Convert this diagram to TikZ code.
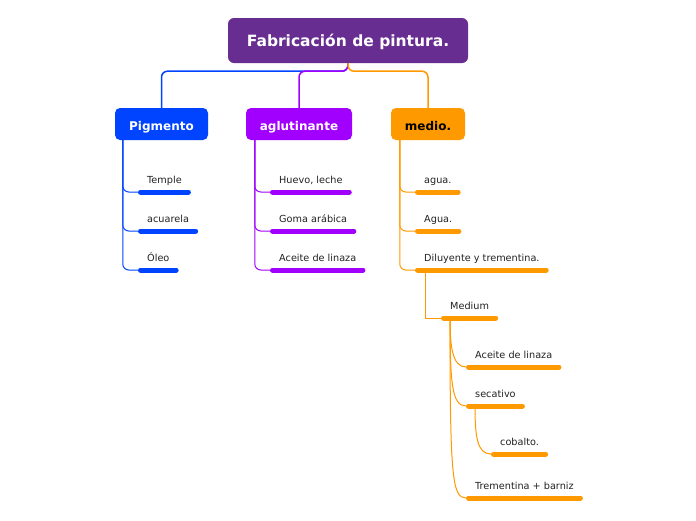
\documentclass[tikz,border=0pt]{standalone}
\usepackage{fontspec}
\setmainfont{DejaVu Sans}
\usetikzlibrary{calc}
\definecolor{cTitle}{RGB}{103,45,145}
\definecolor{cBlue}{RGB}{0,68,255}
\definecolor{cPurp}{RGB}{161,0,255}
\definecolor{cOrng}{RGB}{255,153,0}
\definecolor{cText}{RGB}{34,34,34}
\tikzset{
  x=1pt,y=1pt,
  titlebox/.style={rounded corners=6pt, fill=cTitle, text=white, font=\fontsize{15.5}{18}\selectfont\bfseries, minimum width=240pt, minimum height=45pt, inner sep=0pt, text height=12.4pt, text depth=0pt},
  catbox/.style={rounded corners=5pt, font=\fontsize{12}{14}\selectfont\bfseries, minimum height=32pt, inner sep=0pt, text height=12pt, text depth=0pt},
  leaf/.style={anchor=south west, inner xsep=9pt, inner ysep=3.5pt, text height=7.5pt, text depth=2pt, font=\fontsize{9.7}{11}\selectfont, text=cText},
  ul/.style={line width=5pt, line cap=round},
  conn/.style={line width=1pt},
  topconn/.style={line width=1.5pt, rounded corners=6pt},
}
\newcommand{\leafnode}[5]{%
  \node[leaf] (#1) at (#2,{-#3+2.5}) {#5};
  \draw[ul,#4] ([xshift=2.5pt,yshift=-2.5pt]#1.south west) -- ([xshift=-2.5pt,yshift=-2.5pt]#1.south east);
}
\begin{document}
\begin{tikzpicture}
\useasboundingbox (0,0) rectangle (696,-520);
\fill[white] (0,0) rectangle (696,-520);
% main nodes
\node[titlebox] (title) at (348,-40.5) {Fabricación de pintura.};
\node[catbox, fill=cBlue, text=white, minimum width=93pt] (pig) at (161.5,-124) {Pigmento};
\node[catbox, fill=cPurp, text=white, minimum width=106pt] (agl) at (299,-124) {aglutinante};
\node[catbox, fill=cOrng, text=black, minimum width=74pt] (med) at (428,-124) {medio.};
% top connectors
\draw[topconn, cBlue] (title.south) -- ++(0,-8) -| (pig.north);
\draw[topconn, cPurp] (title.south) -- ++(0,-8) -| (agl.north);
\draw[topconn, cOrng] (title.south) -- ++(0,-8) -| (med.north);
% leaves
\leafnode{temple}{138}{192}{cBlue}{Temple}
\leafnode{acuarela}{138}{231}{cBlue}{acuarela}
\leafnode{oleo}{138}{270}{cBlue}{Óleo}
\leafnode{huevo}{270}{192}{cPurp}{Huevo, leche}
\leafnode{goma}{270}{231}{cPurp}{Goma arábica}
\leafnode{aceite}{270}{270}{cPurp}{Aceite de linaza}
\leafnode{agua}{415}{192}{cOrng}{agua.}
\leafnode{Agua}{415}{231}{cOrng}{Agua.}
\leafnode{dil}{415}{270}{cOrng}{Diluyente y trementina.}
\leafnode{medium}{441}{318}{cOrng}{Medium}
\leafnode{aceite2}{466}{367}{cOrng}{Aceite de linaza}
\leafnode{secativo}{466}{406}{cOrng}{secativo}
\leafnode{trem}{466}{498}{cOrng}{Trementina + barniz}
\leafnode{cobalto}{491}{454}{cOrng}{cobalto.}
% first-level child connectors
\foreach \c in {temple,acuarela,oleo}
  \draw[conn, cBlue, rounded corners=6pt] ([xshift=8pt]pig.south west) |- ([yshift=-2.5pt]\c.south west);
\foreach \c in {huevo,goma,aceite}
  \draw[conn, cPurp, rounded corners=6pt] ([xshift=9pt]agl.south west) |- ([yshift=-2.5pt]\c.south west);
\foreach \c in {agua,Agua,dil}
  \draw[conn, cOrng, rounded corners=6pt] ([xshift=9pt]med.south west) |- ([yshift=-2.5pt]\c.south west);
% Medium connector
\draw[conn, cOrng] ([xshift=10pt,yshift=-2.5pt]dil.south west) |- ([yshift=-2.5pt]medium.south west);
% Medium children (curves)
\coordinate (mp) at ([xshift=9pt,yshift=-2.5pt]medium.south west);
\foreach \c in {aceite2,secativo,trem}{
  \coordinate (e) at ([yshift=-2.5pt]\c.south west);
  \draw[conn, cOrng] (mp) .. controls ($(mp |- e)+(0,22pt)$) and ($(mp |- e)+(2pt,0)$) .. (e);
}
\coordinate (sp) at ([xshift=9pt,yshift=-2.5pt]secativo.south west);
\coordinate (e2) at ([yshift=-2.5pt]cobalto.south west);
\draw[conn, cOrng] (sp) .. controls ($(sp |- e2)+(0,18pt)$) and ($(sp |- e2)+(2pt,0)$) .. (e2);
\end{tikzpicture}
\end{document}
